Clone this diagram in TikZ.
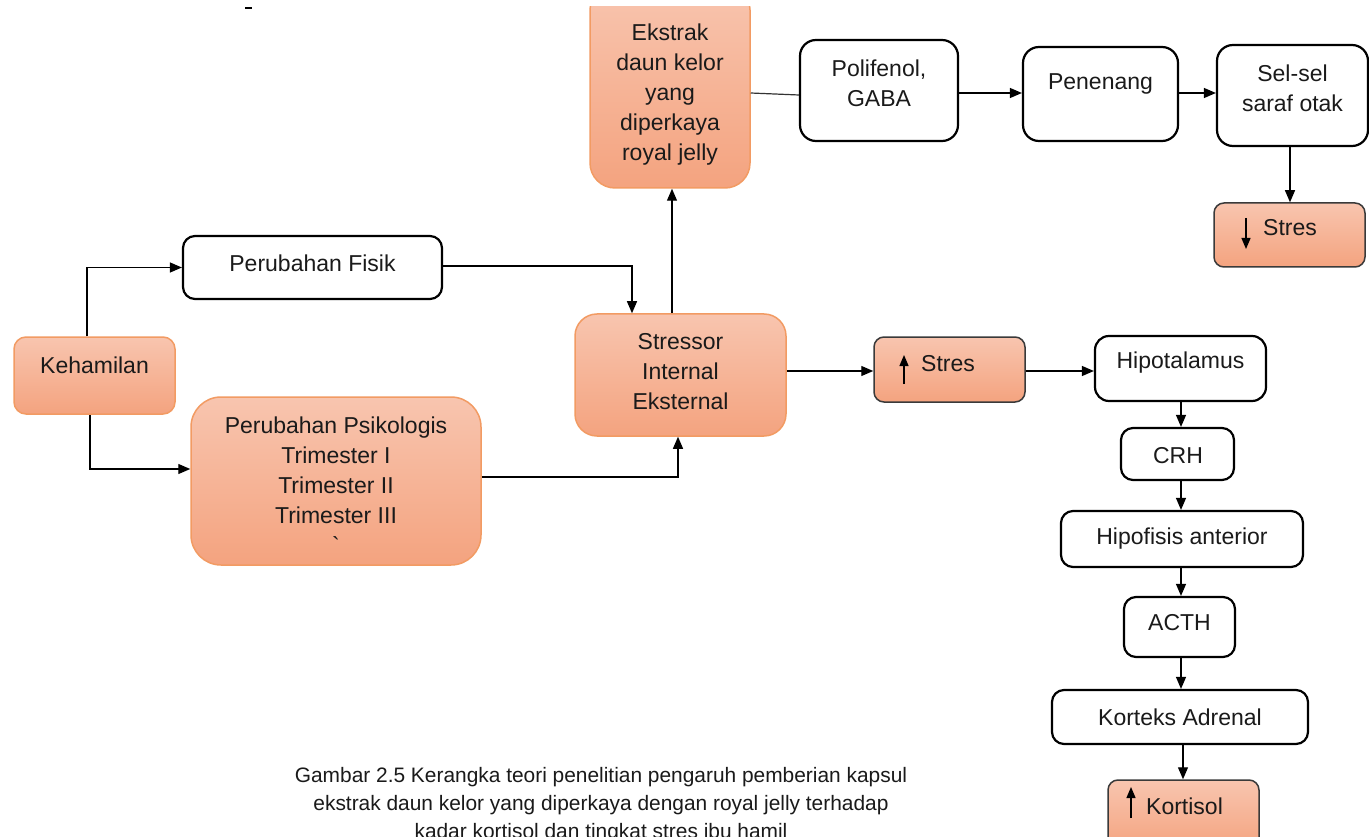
\documentclass[tikz,border=0pt]{standalone}
\usepackage{fontspec}
\newfontfamily\mainf{Liberation Sans}
\usetikzlibrary{arrows.meta}
\definecolor{oTop}{HTML}{F8C5AF}
\definecolor{oBot}{HTML}{F4A37F}
\definecolor{oBrd}{HTML}{F29B63}
\definecolor{txtc}{HTML}{1A1A1A}
\definecolor{sBrd}{HTML}{3A3A3A}
\tikzset{
  wbox/.style={draw=black, line width=2.2pt, fill=white, rounded corners=14pt, inner sep=0pt},
  obox/.style={draw=oBrd, line width=1.5pt, top color=oTop, bottom color=oBot, rounded corners=#1, inner sep=0pt},
  obox/.default=12pt,
  sbox/.style={draw=sBrd, line width=1.5pt, top color=oTop, bottom color=oBot, rounded corners=10pt, inner sep=0pt},
  txt/.style={font=\mainf\fontsize{23}{30}\selectfont, align=center, text=txtc, inner sep=0pt},
  conn/.style={line width=1.2pt, draw=black, -{Triangle[length=12pt,width=10pt]}},
  plain/.style={line width=1.2pt, draw=black!80},
  glyph/.style={line width=1.3pt, -{Triangle[length=11pt,width=9pt]}},
}
\begin{document}
\begin{tikzpicture}[x=1pt,y=-1pt]
\useasboundingbox (0,0) rectangle (1369,837);
\fill[white] (0,0) rectangle (1369,837);

% small dash at top
\draw[line width=2pt] (245,8) -- (252,8);

% ---- boxes ----
\node[obox=12pt, minimum width=161pt, minimum height=77pt] (keh) at (94.5,375.5) {};
\node[txt] (tkeh) at (94.5,365) {Kehamilan};

\node[wbox, rounded corners=12pt, minimum width=259pt, minimum height=63pt] (fisik) at (312.5,267.5) {};
\node[txt] (tfisik) at (312.5,263) {Perubahan Fisik};

\node[obox=30pt, minimum width=290pt, minimum height=168pt] (psiko) at (336,481) {};
\node[txt] (tpsiko) at (336,485) {Perubahan Psikologis\\Trimester I\\Trimester II\\Trimester III\\\symbol{96}};

\node[obox=22pt, minimum width=211pt, minimum height=122pt] (stressor) at (680.5,375) {};
\node[txt] (tstressor) at (680.5,372) {Stressor\\Internal\\Eksternal};

\begin{scope}
\clip (0,7) rectangle (1369,837);
\node[obox=25pt, minimum width=160pt, minimum height=203pt] (ekstrak) at (670,86.5) {};
\end{scope}
\node[txt] (tekstrak) at (670,95) {Ekstrak\\daun kelor\\yang\\diperkaya\\royal jelly};

\node[wbox, rounded corners=16pt, minimum width=158pt, minimum height=101pt] (poli) at (879,90.5) {};
\node[txt] (tpoli) at (879,83) {Polifenol,\\GABA};

\node[wbox, rounded corners=16pt, minimum width=155pt, minimum height=94pt] (pen) at (1100.5,94) {};
\node[txt] (tpen) at (1100.5,84) {Penenang};

\node[wbox, rounded corners=16pt, minimum width=151pt, minimum height=101pt] (sel) at (1292.5,95.5) {};
\node[txt] (tsel) at (1292.5,88) {Sel-sel\\saraf otak};

\node[sbox, minimum width=151pt, minimum height=64pt] (sdown) at (1289.5,235) {};
\node[txt, anchor=west] (tsdown) at (1263,228) {Stres};
\draw[glyph] (1246,218) -- (1246,249);

\node[sbox, minimum width=151pt, minimum height=65pt] (sup) at (949.5,369.5) {};
\node[txt, anchor=west] (tsup) at (921,364) {Stres};
\draw[glyph] (904,384) -- (904,355);

\node[wbox, rounded corners=14pt, minimum width=171pt, minimum height=65pt] (hipo) at (1180.5,368.5) {};
\node[txt] (thipo) at (1180.5,363) {Hipotalamus};

\node[wbox, rounded corners=12pt, minimum width=113pt, minimum height=52pt] (crh) at (1177.5,454) {};
\node[txt] (tcrh) at (1178,456) {CRH};

\node[wbox, rounded corners=12pt, minimum width=242pt, minimum height=56pt] (hipof) at (1182,539) {};
\node[txt] (thipof) at (1182,539) {Hipofisis anterior};

\node[wbox, rounded corners=12pt, minimum width=111pt, minimum height=60pt] (acth) at (1179.5,627) {};
\node[txt] (tacth) at (1179.5,623) {ACTH};

\node[wbox, rounded corners=12pt, minimum width=256pt, minimum height=54pt] (kort) at (1180,717) {};
\node[txt] (tkort) at (1180,717) {Korteks Adrenal};

\node[sbox, minimum width=151pt, minimum height=70pt] (kortisol) at (1183.5,815) {};
\node[txt, anchor=west] (tkortisol) at (1146,806) {Kortisol};
\draw[glyph] (1131,818) -- (1131,787);

% ---- connectors ----
\coordinate (c1) at (87,0);
\coordinate (c2) at (90,0);
\coordinate (c3) at (632,0);
\coordinate (c4) at (678,0);
\coordinate (c5) at (672,0);
\coordinate (c6) at (0,93);
\coordinate (colx) at (1181,0);
\coordinate (c7) at (0,371);
\coordinate (c8) at (1290,0);
\coordinate (c9) at (0,266);
\coordinate (c10) at (0,477);

\draw[conn] (keh.north -| c1) |- (fisik.west);
\draw[conn] (keh.south -| c2) |- (psiko.west |- 0,469);
\draw[conn] (fisik.east |- c9) -| (stressor.north -| c3);
\draw[conn] (psiko.east |- c10) -| (stressor.south -| c4);
\draw[conn] (stressor.north -| c5) -- (ekstrak.south -| c5);
\draw[plain] (ekstrak.east |- c6) -- (poli.west |- 0,95);
\draw[conn] (poli.east |- c6) -- (pen.west |- c6);
\draw[conn] (pen.east |- c6) -- (sel.west |- c6);
\draw[conn] (sel.south -| c8) -- (sdown.north -| c8);
\draw[conn] (stressor.east |- c7) -- (sup.west |- c7);
\draw[conn] (sup.east |- c7) -- (hipo.west |- c7);
\draw[conn] (hipo.south -| colx) -- (crh.north -| colx);
\draw[conn] (crh.south -| colx) -- (hipof.north -| colx);
\draw[conn] (hipof.south -| colx) -- (acth.north -| colx);
\draw[conn] (acth.south -| colx) -- (kort.north -| colx);
\draw[conn] (kort.south -| 1183,0) -- (kortisol.north -| 1183,0);

% ---- caption ----
\node[font=\mainf\fontsize{20.9}{28}\selectfont, align=center, text=txtc, inner sep=0pt] (cap) at (601,805)
  {Gambar 2.5 Kerangka teori penelitian pengaruh pemberian kapsul\\ekstrak daun kelor yang diperkaya dengan royal jelly terhadap\\kadar kortisol dan tingkat stres ibu hamil};
\end{tikzpicture}
\end{document}
